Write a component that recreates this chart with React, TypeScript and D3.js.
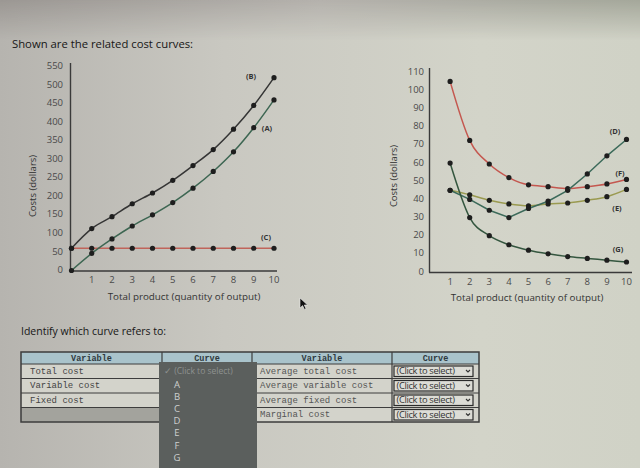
import React from 'react';
import * as d3 from 'd3';

// ---- Data ----
const quantity = [0, 1, 2, 3, 4, 5, 6, 7, 8, 9, 10];
const totalCost = [60, 113, 145, 180, 209, 243, 283, 326, 381, 445, 520]; // (B)
const variableCost = [0, 46, 85, 120, 150, 183, 222, 267, 320, 385, 460]; // (A)
const fixedCost = [60, 60, 60, 60, 60, 60, 60, 60, 60, 60, 60]; // (C)

const outputQ = [1, 2, 3, 4, 5, 6, 7, 8, 9, 10];
const avgTotalCost = [105, 72.5, 59.5, 52, 48, 47, 46, 47, 48.5, 51]; // (F)
const avgVariableCost = [45, 42.5, 39.5, 37.5, 36.5, 37.5, 38, 39.5, 41.5, 45.5]; // (E)
const marginalCost = [45, 40, 34, 30, 35, 39, 45, 54, 64, 73]; // (D)
const avgFixedCost = [60, 30, 20, 15, 12, 10, 8.5, 7.5, 6.5, 5.5]; // (G)

const leftYTicks = [0, 50, 100, 150, 200, 250, 300, 350, 400, 450, 500, 550];
const rightYTicks = [0, 10, 20, 30, 40, 50, 60, 70, 80, 90, 100, 110];
const xTicks = [1, 2, 3, 4, 5, 6, 7, 8, 9, 10];

const leftTableRows = ['Total cost', 'Variable cost', 'Fixed cost', ''];
const rightTableRows = ['Average total cost', 'Average variable cost', 'Average fixed cost', 'Marginal cost'];
const dropdownOptions = ['A', 'B', 'C', 'D', 'E', 'F', 'G'];

const SANS = "'Open Sans', 'Liberation Sans', sans-serif";
const MONO = "'Liberation Mono', 'DejaVu Sans Mono', monospace";

type Series = { values: number[]; color: string; curve: d3.CurveFactory; width: number };

function Chart(props: {
  xs: number[];
  series: Series[];
  xScale: d3.ScaleLinear<number, number>;
  yScale: d3.ScaleLinear<number, number>;
  yTicks: number[];
  labels: { text: string; x: number; y: number }[];
  axisTop: number;
  axisRight: number;
  tickRight: number;
  yTitleX: number;
  yTitleY: number;
  xTitleX: number;
  xTitleY: number;
}) {
  const { xs, series, xScale, yScale, yTicks, labels } = props;
  const x0 = xScale(0);
  const y0 = yScale(0);
  return (
    <g>
      <line x1={x0 - 1} x2={x0 - 1} y1={props.axisTop} y2={y0 + 0.5} stroke="#3a3a3a" strokeWidth={1.4} />
      <line x1={x0 - 1.5} x2={props.axisRight} y1={y0 + 0.5} y2={y0 + 0.5} stroke="#3a3a3a" strokeWidth={1.4} />
      {yTicks.map((t) => (
        <text key={'y' + t} x={props.tickRight} y={yScale(t)} fontSize={9.5} fill="#4a4a4a" textAnchor="end"
          dominantBaseline="middle" fontFamily={SANS}>{t}</text>
      ))}
      {xTicks.map((t) => (
        <text key={'x' + t} x={xScale(t)} y={y0 + 10} fontSize={9.5} fill="#4a4a4a" textAnchor="middle"
          dominantBaseline="middle" fontFamily={SANS}>{t}</text>
      ))}
      <text x={props.xTitleX} y={props.xTitleY} fontSize={9.8} fill="#333" textAnchor="middle"
        dominantBaseline="middle" fontFamily={SANS}>Total product (quantity of output)</text>
      <text transform={`translate(${props.yTitleX},${props.yTitleY}) rotate(-90)`} fontSize={9.5} fill="#333"
        textAnchor="middle" dominantBaseline="middle" fontFamily={SANS}>Costs (dollars)</text>
      {series.map((s, i) => {
        const line = d3.line<number>()
          .x((_, j) => xScale(xs[j]))
          .y((d) => yScale(d))
          .curve(s.curve);
        return (
          <g key={i}>
            <path d={line(s.values) || ''} fill="none" stroke={s.color} strokeWidth={s.width} />
            {s.values.map((v, j) => (
              <circle key={j} cx={xScale(xs[j])} cy={yScale(v)} r={2.6} fill="#1e1e1e" />
            ))}
          </g>
        );
      })}
      {labels.map((l) => (
        <text key={l.text} x={l.x} y={l.y} fontSize={7.5} fontWeight="bold" fill="#333" textAnchor="middle"
          dominantBaseline="middle" fontFamily={SANS}>{l.text}</text>
      ))}
    </g>
  );
}

function Tables() {
  const top = 352;
  const headerH = 12;
  const rowH = 14.5;
  const lx0 = 21, lx1 = 162, lx2 = 252, lx3 = 392, lx4 = 479;
  const rowY = (i: number) => top + headerH + i * rowH;
  const bottom = rowY(4);
  const stroke = '#3d3d3d';
  return (
    <g>
      <rect x={lx0} y={top} width={lx4 - lx0} height={headerH} fill="#a9c3cb" />
      <rect x={lx0} y={top + headerH} width={lx4 - lx0} height={bottom - top - headerH} fill="#d3d3cb" />
      <rect x={lx0} y={rowY(3)} width={lx1 - lx0} height={rowH} fill="#a3a39d" />
      <rect x={lx0} y={top} width={lx4 - lx0} height={bottom - top} fill="none" stroke={stroke} strokeWidth={1.5} />
      {[lx1, lx2, lx3].map((x) => (
        <line key={x} x1={x} x2={x} y1={top} y2={bottom} stroke={stroke} strokeWidth={1.2} />
      ))}
      {[0, 1, 2, 3].map((i) => (
        <line key={i} x1={lx0} x2={lx4} y1={rowY(i)} y2={rowY(i)} stroke={stroke} strokeWidth={1} />
      ))}
      {[[lx0, lx1, 'Variable'], [lx1, lx2, 'Curve'], [lx2, lx3, 'Variable'], [lx3, lx4, 'Curve']].map(([a, b, t]) => (
        <text key={String(a)} x={((a as number) + (b as number)) / 2} y={top + headerH / 2 + 0.5} fontSize={8.5}
          fontWeight="bold" fill="#2f3a40" textAnchor="middle" dominantBaseline="middle" fontFamily={MONO}>{t}</text>
      ))}
      {leftTableRows.map((t, i) => (
        <text key={'l' + i} x={lx0 + 9} y={rowY(i) + rowH / 2} fontSize={9} fill="#444" dominantBaseline="middle"
          fontFamily={MONO}>{t}</text>
      ))}
      {rightTableRows.map((t, i) => (
        <text key={'r' + i} x={lx2 + 8} y={rowY(i) + rowH / 2} fontSize={9} fill="#555" dominantBaseline="middle"
          fontFamily={MONO}>{t}</text>
      ))}
      {rightTableRows.map((_, i) => (
        <g key={'s' + i}>
          <rect x={lx3 + 2} y={rowY(i) + 2} width={79} height={rowH - 4} fill="#dcdcd6" stroke="#2a2a2a" strokeWidth={1.2} />
          <text x={lx3 + 4.5} y={rowY(i) + rowH / 2 + 0.5} fontSize={9.3} fill="#333" dominantBaseline="middle"
            fontFamily={SANS} letterSpacing={-0.35}>(Click to select)</text>
          <path d={`M${lx3 + 74},${rowY(i) + 6} l2,2 l2,-2`} fill="none" stroke="#333" strokeWidth={1.1} />
        </g>
      ))}
      <rect x={159} y={362} width={98} height={110} fill="#5b5f5d" />
      <text x={164} y={372} fontSize={8.5} fill="#8e9290" dominantBaseline="middle" fontFamily={SANS}>✓ (Click to select)</text>
      {dropdownOptions.map((o, i) => (
        <text key={o} x={177} y={385 + i * 12.2} fontSize={9.5} fill="#cdd0cf" textAnchor="middle" dominantBaseline="middle"
          fontFamily={SANS}>{o}</text>
      ))}
    </g>
  );
}

export default function App() {
  const lx = d3.scaleLinear().domain([0, 10]).range([71.5, 274]);
  const ly = d3.scaleLinear().domain([0, 550]).range([270.5, 66.5]);
  const rx = d3.scaleLinear().domain([0, 10]).range([430.5, 626.5]);
  const ry = d3.scaleLinear().domain([0, 110]).range([272, 72.3]);

  const leftSeries: Series[] = [
    { values: fixedCost, color: '#c0645a', curve: d3.curveLinear, width: 1.3 },
    { values: variableCost, color: '#3d6652', curve: d3.curveMonotoneX, width: 1.5 },
    { values: totalCost, color: '#353535', curve: d3.curveMonotoneX, width: 1.5 },
  ];
  const rightSeries: Series[] = [
    { values: avgTotalCost, color: '#c4574f', curve: d3.curveMonotoneX, width: 1.5 },
    { values: avgVariableCost, color: '#9a9a50', curve: d3.curveMonotoneX, width: 1.5 },
    { values: marginalCost, color: '#3c6a5a', curve: d3.curveLinear, width: 1.5 },
    { values: avgFixedCost, color: '#34563f', curve: d3.curveMonotoneX, width: 1.5 },
  ];

  return (
    <svg width={640} height={468} style={{ position: 'absolute', left: 0, top: 0 }}>
      <defs>
        <linearGradient id="bg" x1="0" y1="0" x2="1" y2="0">
          <stop offset="0" stopColor="#b6b4af" />
          <stop offset="0.35" stopColor="#c9c8c1" />
          <stop offset="0.75" stopColor="#d3d4c9" />
          <stop offset="1" stopColor="#d0d2c6" />
        </linearGradient>
        <linearGradient id="topband" x1="0" y1="0" x2="1" y2="0">
          <stop offset="0" stopColor="#9b9793" />
          <stop offset="0.5" stopColor="#b4b1ac" />
          <stop offset="1" stopColor="#a4a79a" />
        </linearGradient>
        <linearGradient id="fade" x1="0" y1="0" x2="0" y2="1">
          <stop offset="0" stopColor="#fff" stopOpacity={1} />
          <stop offset="1" stopColor="#fff" stopOpacity={0} />
        </linearGradient>
        <mask id="topmask">
          <rect x={0} y={0} width={640} height={40} fill="url(#fade)" />
        </mask>
      </defs>
      <rect x={0} y={0} width={640} height={468} fill="url(#bg)" />
      <rect x={0} y={0} width={640} height={40} fill="url(#topband)" mask="url(#topmask)" />

      <text x={12} y={45} fontSize={11.3} fill="#161616" dominantBaseline="middle" fontFamily={SANS}>
        Shown are the related cost curves:
      </text>

      <Chart xs={quantity} series={leftSeries} xScale={lx} yScale={ly} yTicks={leftYTicks}
        labels={[{ text: '(B)', x: 251, y: 77 }, { text: '(A)', x: 267, y: 129 }, { text: '(C)', x: 266, y: 238 }]}
        axisTop={63} axisRight={277} tickRight={63} yTitleX={33} yTitleY={186} xTitleX={184} xTitleY={297} />

      <Chart xs={outputQ} series={rightSeries} xScale={rx} yScale={ry} yTicks={rightYTicks}
        labels={[{ text: '(D)', x: 615, y: 132 }, { text: '(F)', x: 620, y: 174 }, { text: '(E)', x: 617, y: 209 },
          { text: '(G)', x: 618, y: 250 }]}
        axisTop={68} axisRight={632} tickRight={424} yTitleX={394} yTitleY={176} xTitleX={527} xTitleY={298} />

      <path d="M0,0 L0,10 L2.6,7.6 L4.4,11.4 L6,10.7 L4.3,7 L7.6,7 Z" transform="translate(300,298)" fill="#111"
        stroke="#eee" strokeWidth={0.6} />

      <text x={21} y={332} fontSize={10.5} fill="#161616" dominantBaseline="middle" fontFamily={SANS}>
        Identify which curve refers to:
      </text>
      <Tables />
    </svg>
  );
}
